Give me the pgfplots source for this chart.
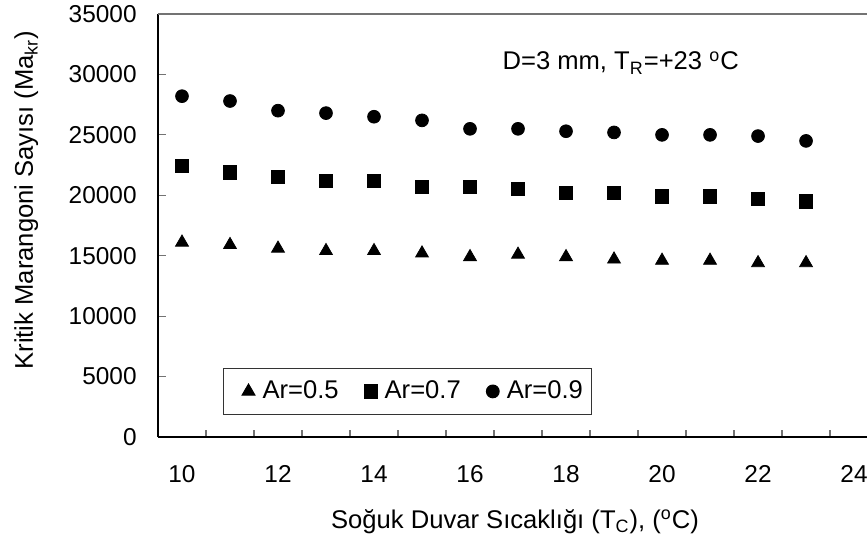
\documentclass[border=0pt]{standalone}
\usepackage{fontspec}
\setmainfont{Liberation Sans}
\usepackage{pgfplots}
\pgfplotsset{compat=1.18}
\usetikzlibrary{calc}

\begin{document}
\fontsize{12.8}{15}\selectfont
\begin{tikzpicture}
\begin{axis}[
    name=ax,
    width=354.5pt, height=211.5pt, scale only axis,
    xmin=9.5, xmax=24.27, ymin=0, ymax=35000,
    axis x line*=bottom, axis y line*=left,
    axis line style={black,line width=0.85pt},
    xtick={10,12,...,24}, xticklabels={10,12,14,16,18,20,22,24},
    minor xtick={10.5,11.5,...,23.5},
    ytick={0,5000,...,35000},
    yticklabels={0,5000,10000,15000,20000,25000,30000,35000},
    scaled y ticks=false,
    major x tick style={draw=none},
    minor x tick style={black!55,line width=0.6pt},
    y tick style={black!55,line width=0.6pt},
    major tick length=4pt, minor tick length=3.5pt,
    tick align=inside,
    every tick label/.append style={font=\fontsize{12.2}{14}\selectfont},
    xticklabel style={inner sep=0pt,yshift=-14pt},
    yticklabel style={inner sep=0pt,xshift=-10.5pt},
    legend columns=3,
    legend style={at={(rel axis cs:0.0917,0.163)},anchor=north west,
                  draw=black!80,line width=0.5pt,inner xsep=2.5pt,inner ysep=4pt,
                  font=\fontsize{12.8}{15}\selectfont,
                  /tikz/every even column/.append style={column sep=4pt}},
    legend image code/.code={\path[draw=none,fill=none] (-10pt,0pt) (5pt,0pt);
      \draw[#1] plot coordinates {(0pt,0pt)};},
    clip=false,
]
  % Ar=0.5
  \addplot[only marks,mark=triangle*,mark size=3.7pt,black] coordinates {
    (10,16100) (11,15900) (12,15600) (13,15400) (14,15400) (15,15200) (16,14900)
    (17,15100) (18,14900) (19,14700) (20,14600) (21,14600) (22,14400) (23,14400)};
  % Ar=0.7
  \addplot[only marks,mark=square*,mark size=3.3pt,black] coordinates {
    (10,22400) (11,21900) (12,21500) (13,21200) (14,21200) (15,20700) (16,20700)
    (17,20500) (18,20200) (19,20200) (20,19900) (21,19900) (22,19700) (23,19500)};
  % Ar=0.9
  \addplot[only marks,mark=*,mark size=3.2pt,black] coordinates {
    (10,28200) (11,27800) (12,27000) (13,26800) (14,26500) (15,26200) (16,25500)
    (17,25500) (18,25300) (19,25200) (20,25000) (21,25000) (22,24900) (23,24500)};
  \legend{Ar=0.5, Ar=0.7, Ar=0.9}

  \draw[black!55,line width=0.6pt] (rel axis cs:0,1) -- (rel axis cs:1,1);
  \node[anchor=base west,inner sep=0pt] at (axis cs:16.67,30370)
    {D=3 mm, T\textsubscript{R}=+23 \textsuperscript{o}C};
\end{axis}
\node[rotate=90,anchor=base] at ($(ax.south west)+(-62.5pt,118.5pt)$)
  {Kritik Marangoni Sayısı (Ma\textsubscript{kr})};
\node[anchor=base] at ($(ax.south west)+(178.5pt,-45.5pt)$)
  {Soğuk Duvar Sıcaklığı (T\textsubscript{C}), (\textsuperscript{o}C)};
\pgfresetboundingbox
\useasboundingbox ($(ax.south west)+(-79pt,-52pt)$) rectangle ($(ax.north east)+(0pt,7pt)$);
\end{tikzpicture}
\end{document}
